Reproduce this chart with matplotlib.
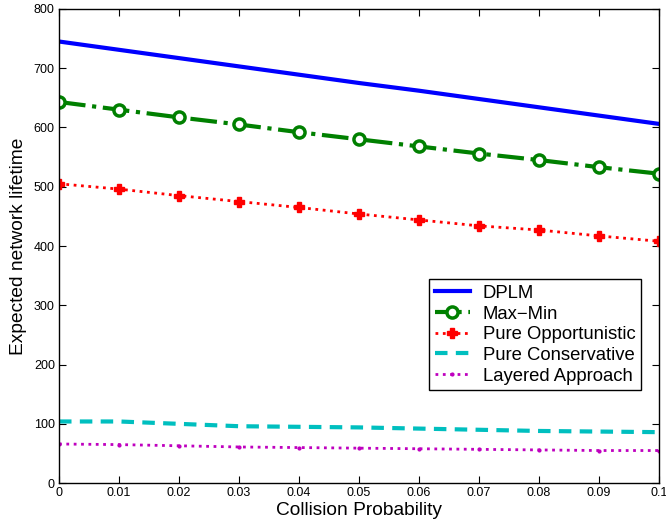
import matplotlib
matplotlib.use('Agg')
import matplotlib.pyplot as plt

plt.rcParams['font.family'] = ['Liberation Sans', 'DejaVu Sans']

# data
prob = [0, 0.01, 0.02, 0.03, 0.04, 0.05, 0.06, 0.07, 0.08, 0.09, 0.1]
dplm = [745, 731, 717, 703, 689, 675, 662, 648, 634, 620, 606]
maxmin = [643, 630, 617, 605, 592, 580, 568, 556, 545, 533, 522]
opport = [505, 496, 485, 475, 465, 454, 444, 434, 427, 417, 408]
conserv = [104, 104, 100, 96, 95, 94, 92, 90, 88, 87, 86]
layered = [66, 65, 63, 61, 60, 59, 58, 57, 56, 55, 55]
xticks = [0, 0.01, 0.02, 0.03, 0.04, 0.05, 0.06, 0.07, 0.08, 0.09, 0.1]
xticklabels = ['0', '0.01', '0.02', '0.03', '0.04', '0.05', '0.06', '0.07', '0.08', '0.09', '0.1']

fig = plt.figure(figsize=(6.66, 5.24), dpi=100)
ax = fig.add_axes([0.0886, 0.078, 0.901, 0.905])

ax.plot(prob, dplm, color='#0000ff', lw=3, label='DPLM')
ax.plot(prob, maxmin, color='#008000', lw=3, ls='-.', marker='o', ms=8,
        mfc='white', mec='#008000', mew=2.5, label='Max\u2212Min')
ax.plot(prob, opport, color='#ff0000', lw=2, ls=':', marker='P', ms=7,
        mfc='#ff0000', mec='#ff0000', label='Pure Opportunistic')
ax.plot(prob, conserv, color='#00bfbf', lw=3, ls=(0, (3, 2)), label='Pure Conservative')
ax.plot(prob, layered, color='#bf00bf', lw=2, ls=':', marker='.', ms=4,
        label='Layered Approach')

ax.set_xlim(0, 0.1)
ax.set_ylim(0, 800)
ax.set_xticks(xticks)
ax.set_xticklabels(xticklabels)
ax.set_yticks(range(0, 801, 100))
ax.tick_params(direction='in', labelsize=9, top=True, right=True, length=5, pad=3)
for s in ax.spines.values():
    s.set_linewidth(1)
ax.set_xlabel('Collision Probability', fontsize=13.8, labelpad=2)
ax.set_ylabel('Expected network lifetime', fontsize=13.8, labelpad=5)

leg = ax.legend(loc='lower right', bbox_to_anchor=(0.97, 0.196), fontsize=13.3,
                fancybox=False, edgecolor='black', framealpha=1, borderaxespad=0,
                handlelength=1.9, handletextpad=0.7, borderpad=0.3,
                labelspacing=0.2, numpoints=1)
leg.get_frame().set_linewidth(1)

fig.savefig('out.png', dpi=100)
